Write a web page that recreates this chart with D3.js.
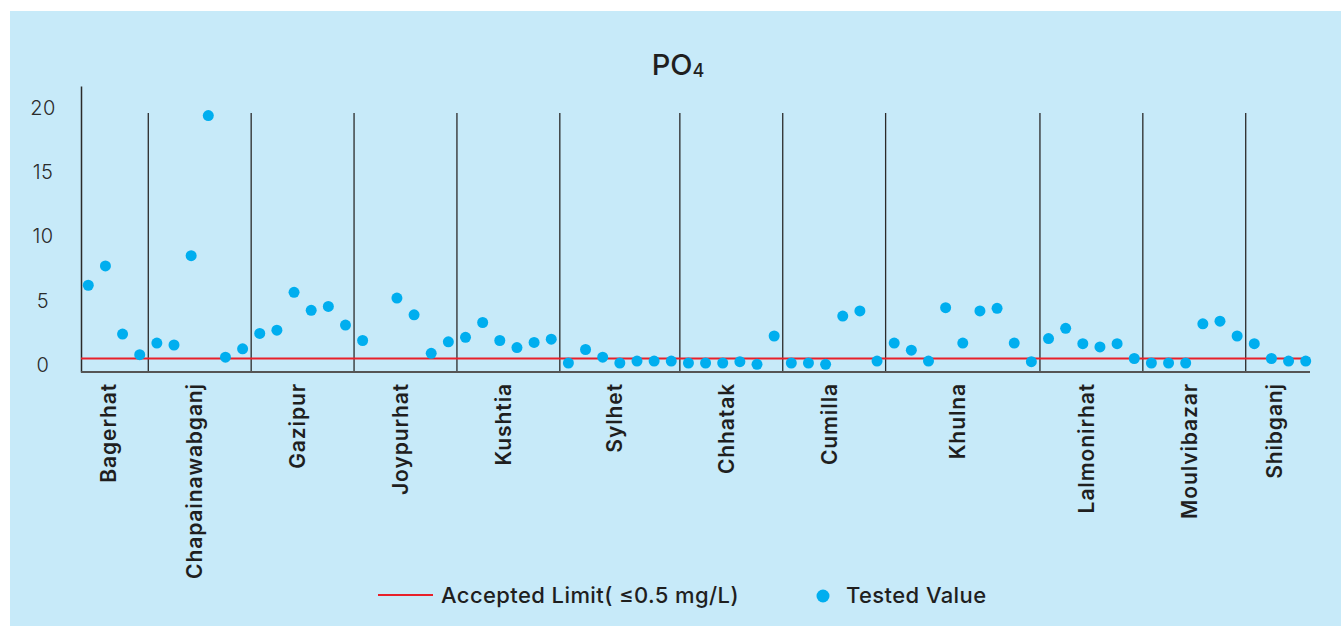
<!DOCTYPE html>
<html>
<head>
<meta charset="utf-8">
<script src="https://cdn.jsdelivr.net/npm/d3@7"></script>
<style>
  html, body { margin: 0; padding: 0; background: #ffffff; }
  svg { display: block; }
  text { font-family: Inter, "Open Sans", sans-serif; }
</style>
</head>
<body>
<svg id="chart" width="1341" height="626"></svg>
<script>
// ---------- data ----------
const title = "PO";
const titleSub = "4";
const categories = ["Bagerhat", "Chapainawabganj", "Gazipur", "Joypurhat", "Kushtia", "Sylhet",
  "Chhatak", "Cumilla", "Khulna", "Lalmonirhat", "Moulvibazar", "Shibganj"];
const bagerhat = [6.2, 7.7, 2.4, 0.8];
const chapainawabganj = [1.7, 1.55, 8.5, 19.4, 0.6, 1.25];
const gazipur = [2.45, 2.7, 5.65, 4.25, 4.55, 3.1];
const joypurhat = [1.9, null, 5.2, 3.9, 0.9, 1.8];
const kushtia = [2.15, 3.3, 1.9, 1.35, 1.75, 2.0];
const sylhet = [0.15, 1.2, 0.6, 0.15, 0.3, 0.3, 0.3];
const chhatak = [0.15, 0.15, 0.15, 0.25, 0.05, 2.25];
const cumilla = [0.15, 0.15, 0.05, 3.8, 4.2, 0.3];
const khulna = [1.7, 1.15, 0.3, 4.45, 1.7, 4.2, 4.4, 1.7, 0.25];
const lalmonirhat = [2.05, 2.85, 1.65, 1.4, 1.65, 0.5];
const moulvibazar = [0.15, 0.15, 0.15, 3.2, 3.4, 2.25];
const shibganj = [1.65, 0.5, 0.3, 0.3];
const seriesByCategory = [bagerhat, chapainawabganj, gazipur, joypurhat, kushtia, sylhet,
  chhatak, cumilla, khulna, lalmonirhat, moulvibazar, shibganj];
const yTicks = [0, 5, 10, 15, 20];
const acceptedLimit = 0.5;
const legendLimitLabel = "Accepted Limit( \u22640.5 mg/L)";
const legendValueLabel = "Tested Value";

// ---------- build slots ----------
const slots = [];
const groups = [];
seriesByCategory.forEach((arr, gi) => {
  const first = slots.length;
  arr.forEach((v, i) => slots.push({ id: first + i, cat: categories[gi], value: v }));
  groups.push({ name: categories[gi], first, last: slots.length - 1 });
});

// ---------- layout ----------
const svg = d3.select("#chart");
const W = 1341, H = 626;
const panel = { x: 10, y: 11, w: W - 10, h: H - 11 };
const axisX = 81, axisRight = 1310, axisTop = 86, axisBottom = 372;

const COLORS = {
  bg: "#c7eaf9", dot: "#00aeef", limit: "#e8202a", ink: "#1f1f1f", axis: "#555555", sep: "#2a2a2a"
};

svg.append("rect").attr("x", panel.x).attr("y", panel.y)
  .attr("width", panel.w).attr("height", panel.h).attr("fill", COLORS.bg);

const x = d3.scaleBand().domain(slots.map(d => d.id)).range([79.7, 1314.3]).padding(0);
const y = d3.scaleLinear().domain([-0.55, 21.7]).range([axisBottom, axisTop]);
const cx = id => x(id) + x.bandwidth() / 2;

// title
const t = svg.append("text").attr("x", 678).attr("y", 75).attr("text-anchor", "middle")
  .attr("font-size", 29).attr("font-weight", 500).attr("fill", COLORS.ink).text(title);
t.append("tspan").attr("font-size", 18).attr("dy", 2).text(titleSub);

// y axis
const yAxis = svg.append("g").attr("transform", `translate(${axisX},0)`)
  .call(d3.axisLeft(y).tickValues(yTicks).tickSizeInner(0).tickSizeOuter(0).tickPadding(0));
yAxis.select(".domain").attr("stroke", COLORS.sep).attr("stroke-width", 1.5);
yAxis.selectAll(".tick text").attr("x", -38).attr("text-anchor", "middle")
  .attr("font-family", "Inter, sans-serif").attr("font-size", 20).attr("font-weight", 300)
  .attr("letter-spacing", 0.5).attr("fill", "#2b2b2b");

// group separators
svg.append("g").selectAll("line").data(groups.slice(1)).join("line")
  .attr("x1", d => x(d.first)).attr("x2", d => x(d.first))
  .attr("y1", y(19.6)).attr("y2", axisBottom)
  .attr("stroke", COLORS.sep).attr("stroke-width", 1.3);

// x axis baseline
svg.append("line").attr("x1", axisX).attr("x2", axisRight)
  .attr("y1", axisBottom).attr("y2", axisBottom)
  .attr("stroke", COLORS.axis).attr("stroke-width", 2);

// limit line
svg.append("line").attr("x1", axisX).attr("x2", axisRight)
  .attr("y1", y(acceptedLimit)).attr("y2", y(acceptedLimit))
  .attr("stroke", COLORS.limit).attr("stroke-width", 2);

// dots
svg.append("g").selectAll("circle").data(slots.filter(d => d.value != null)).join("circle")
  .attr("cx", d => cx(d.id)).attr("cy", d => y(d.value)).attr("r", 5.5)
  .attr("fill", COLORS.dot);

// category labels
svg.append("g").selectAll("text").data(groups).join("text")
  .attr("transform", d => `translate(${(cx(d.first) + cx(d.last)) / 2 - 5},383) rotate(-90)`)
  .attr("text-anchor", "end").attr("dy", "0.35em")
  .attr("font-size", 21).attr("font-weight", 600).attr("letter-spacing", 0.9)
  .attr("fill", COLORS.ink)
  .text(d => d.name);

// legend
const lg = svg.append("g");
lg.append("line").attr("x1", 378).attr("x2", 433).attr("y1", 595).attr("y2", 595)
  .attr("stroke", COLORS.limit).attr("stroke-width", 2);
lg.append("text").attr("x", 441).attr("y", 603).attr("font-size", 22).attr("font-weight", 500)
  .attr("letter-spacing", 0.4).attr("fill", COLORS.ink).text(legendLimitLabel);
lg.append("circle").attr("cx", 823).attr("cy", 596).attr("r", 6.5).attr("fill", COLORS.dot);
lg.append("text").attr("x", 846).attr("y", 603).attr("font-size", 22).attr("font-weight", 500)
  .attr("letter-spacing", 0.4).attr("fill", COLORS.ink).text(legendValueLabel);
</script>
</body>
</html>
